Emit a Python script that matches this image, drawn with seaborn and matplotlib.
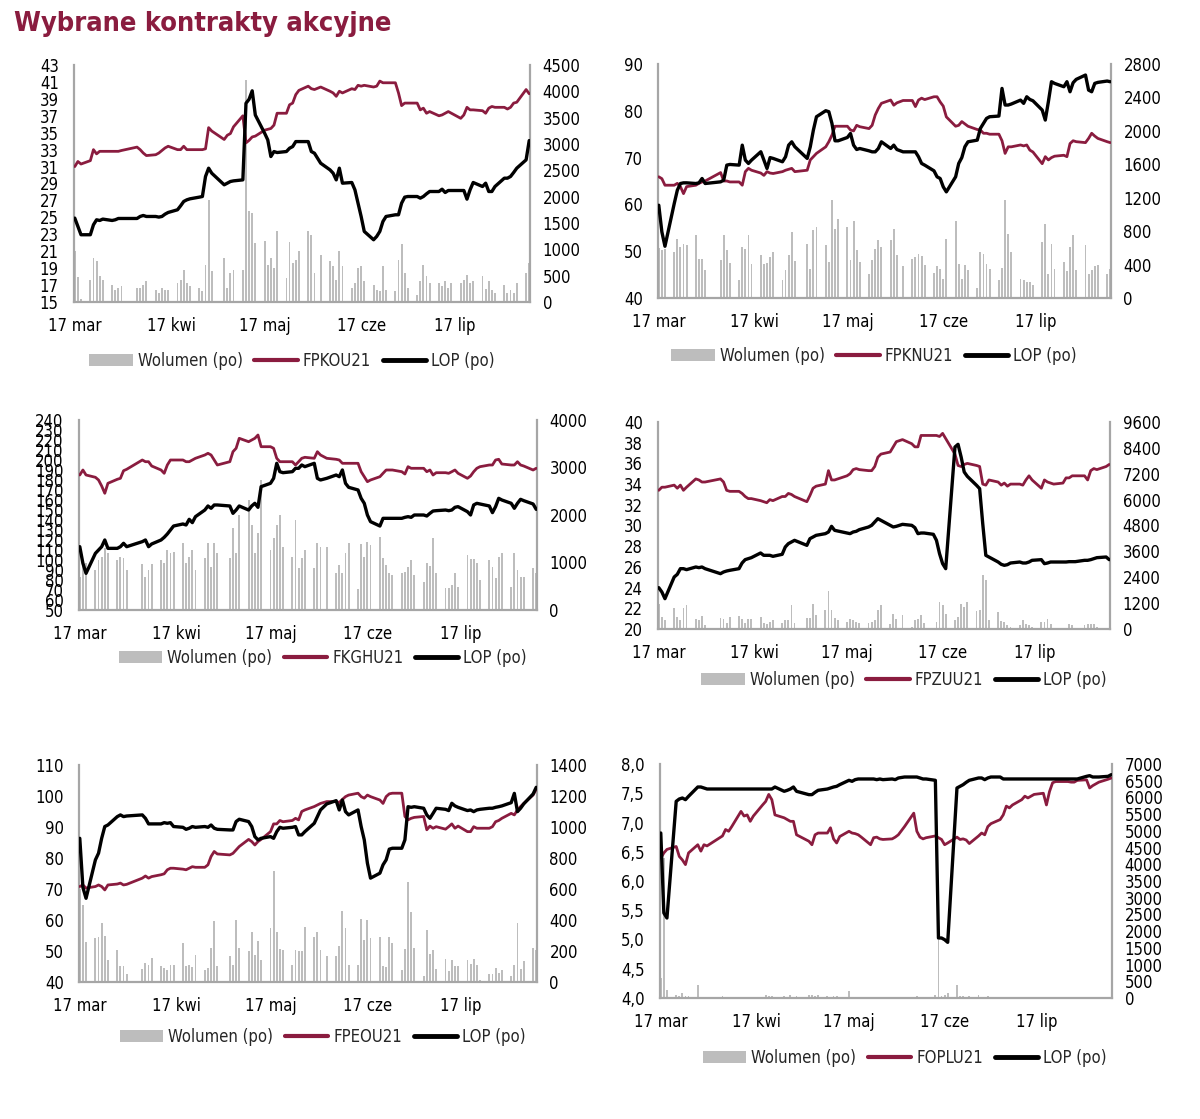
import pandas as pd
import matplotlib.pyplot as plt
import seaborn as sns
from matplotlib.patches import Patch
from matplotlib.lines import Line2D

# Theme and fonts
sns.set_theme(style="white")
plt.rcParams['font.family'] = ['DejaVu Sans']
plt.rcParams['font.stretch'] = 'condensed'

MAROON = '#8A1C3F'
GREY = '#BDBDBD'
SPINE = '#A6A6A6'

# Trading days (Polish holidays removed)
dates = pd.bdate_range('2021-03-17', '2021-08-10')
dates = dates.drop(pd.to_datetime(['2021-04-02', '2021-04-05', '2021-05-03', '2021-06-03']))

tick_dates = pd.to_datetime(['2021-03-17', '2021-04-17', '2021-05-17', '2021-06-17', '2021-07-17'])
tick_labels = ['17 mar', '17 kwi', '17 maj', '17 cze', '17 lip']

# ---- FPKOU21 ----
pko_fut = [31.0, 31.6, 31.3, 31.7, 33.0, 32.5, 32.8, 32.8, 32.8, 32.8, 32.8, 32.9,
           33.3, 33.0, 32.6, 32.3, 32.4, 32.6, 32.9, 33.2, 33.4, 33.0, 33.0, 33.4, 33.0, 33.0,
           33.0, 33.0, 33.1, 35.6, 35.2, 34.2, 34.7, 34.9, 35.7, 37.0, 33.8, 34.1, 34.5, 34.6,
           35.3, 35.4, 35.5, 35.9, 37.3, 37.3, 38.3, 38.5, 39.5, 40.0, 40.5, 40.2, 40.1, 40.4,
           39.9, 39.7, 39.3, 39.9, 39.7, 40.2, 40.1, 40.6, 40.5, 40.6, 40.4, 40.5, 41.1, 40.9, 40.9,
           40.9, 39.7, 38.2, 38.5, 38.5, 38.5, 37.7, 37.9, 37.3, 37.5, 37.0, 37.1, 37.3, 37.5, 37.3,
           36.7, 37.1, 38.0, 37.7, 37.7, 37.6, 37.3, 37.9, 38.1, 38.0, 38.0, 37.8, 38.0, 38.5, 38.6,
           40.1, 39.6]
pko_lop = [1593, 1435, 1277, 1277, 1466, 1561, 1548, 1574, 1548, 1561, 1586, 1586,
           1586, 1624, 1643, 1624, 1624, 1612, 1624, 1668, 1700, 1751, 1826, 1909, 1940, 1959,
           1991, 2003, 2383, 2541, 2446, 2225, 2256, 2288, 2300, 2319, 3773, 3850, 4010, 3550,
           3204, 3078, 2762, 2857, 2838, 2857, 2920, 2951, 3046, 3046, 3046, 2857, 2825, 2635,
           2509, 2446, 2319, 2541, 2256, 2269, 2130, 1877, 1624, 1340, 1182, 1245, 1340, 1529, 1624,
           1656, 1656, 1877, 1991, 2003, 2003, 1972, 2003, 2054, 2098, 2098, 2142, 2079, 2117, 2117,
           2117, 2117, 1953, 2130, 2269, 2193, 2256, 2098, 2098, 2193, 2351, 2351, 2383, 2459, 2541,
           2699, 3065]
pko_vol = [960, 480, 60, 420, 830, 770, 490, 420, 330, 230, 265, 300,
           265, 265, 330, 390, 230, 170, 265, 230, 230, 360, 420, 610, 360, 300,
           265, 200, 710, 1940, 580, 830, 265, 550, 610, 610, 4215, 1720, 1690, 1120,
           1150, 710, 830, 645, 1350, 455, 1130, 740, 800, 960, 1350, 1275, 550, 900,
           770, 675, 420, 960, 675, 265, 360, 645, 675, 390, 330, 230, 200, 675, 230,
           200, 800, 1100, 550, 265, 140, 390, 710, 490, 360, 360, 300, 390, 265, 370,
           360, 420, 520, 360, 390, 490, 250, 390, 230, 170, 330, 180, 230, 170, 360,
           560, 740]

# ---- FPKNU21 ----
pkn_fut = [65.9, 65.5, 64.1, 64.1, 64.5, 63.8, 62.3, 63.8, 64.1, 64.5, 64.8, 65.0,
           66.8, 65.0, 65.0, 64.8, 64.8, 64.1, 67.0, 67.7, 67.3, 66.7, 66.2, 67.0, 66.7, 66.6,
           67.0, 67.3, 67.5, 67.7, 67.0, 67.3, 69.5, 70.2, 70.9, 72.3, 73.4, 74.8, 76.7, 76.7,
           76.7, 75.9, 75.7, 76.9, 76.6, 76.2, 76.9, 79.1, 80.5, 81.6, 82.3, 81.2, 81.7, 82.2,
           82.2, 80.9, 82.3, 82.7, 82.4, 83.0, 83.0, 81.9, 81.0, 78.7, 76.7, 76.9, 77.7, 77.2, 76.7,
           76.0, 75.9, 75.2, 75.2, 75.0, 75.0, 73.6, 70.9, 72.3, 72.3, 72.7, 72.5, 72.7, 71.6, 71.2,
           68.7, 70.2, 69.5, 70.0, 70.3, 70.5, 70.2, 73.0, 73.6, 73.4, 73.2, 74.1, 75.2, 74.6, 74.1,
           73.4, 73.2]
pkn_lop = [1110, 791, 619, 1130, 1290, 1370, 1378, 1378, 1370, 1378, 1430, 1370,
           1390, 1410, 1590, 1598, 1590, 1829, 1650, 1610, 1650, 1750, 1650, 1550, 1680, 1670,
           1630, 1690, 1829, 1869, 1810, 1670, 1810, 2009, 2169, 2241, 2229, 2089, 1881, 1881,
           1921, 1969, 1829, 1777, 1789, 1761, 1749, 1749, 1789, 1869, 1789, 1829, 1777, 1749,
           1749, 1749, 1690, 1610, 1590, 1522, 1450, 1430, 1330, 1270, 1450, 1610, 1680, 1810, 1869,
           1889, 2029, 2089, 2149, 2169, 2177, 2508, 2309, 2309, 2321, 2368, 2329, 2408, 2376, 2360,
           2249, 2129, 2349, 2588, 2568, 2528, 2588, 2468, 2576, 2616, 2668, 2488, 2468, 2568, 2580,
           2596, 2588]
pkn_vol = [600, 570, 590, 551, 711, 611, 643, 631, 751, 471, 471, 340,
           459, 751, 571, 419, 220, 611, 591, 751, 403, 511, 403, 419, 491, 551,
           212, 340, 511, 791, 439, 651, 351, 811, 851, 631, 431, 1170, 831, 951,
           851, 459, 923, 579, 431, 284, 459, 591, 691, 611, 691, 831, 511, 379,
           471, 491, 523, 499, 391, 300, 379, 351, 232, 711, 923, 403, 232, 391, 340,
           124, 551, 523, 411, 351, 220, 363, 1170, 763, 551, 232, 220, 192, 192, 152,
           671, 883, 284, 643, 351, 431, 324, 611, 751, 340, 631, 284, 340, 379, 391,
           284, 351]

# ---- FKGHU21 ----
kgh_fut = [185.0, 190.0, 185.0, 182.7, 180.0, 174.0, 166.7, 176.7, 180.7, 181.7, 189.3, 190.7,
           200.0, 198.3, 198.3, 194.0, 190.0, 186.7, 195.0, 200.0, 200.0, 200.0, 198.3, 198.3, 200.0, 201.7,
           205.0, 206.7, 205.0, 200.0, 195.0, 198.3, 208.3, 211.7, 221.7, 218.3, 220.0, 221.7, 225.0, 213.3,
           213.3, 211.7, 201.7, 198.3, 198.3, 198.3, 195.0, 198.3, 201.7, 202.7, 201.7, 208.3, 205.0, 201.7,
           200.7, 200.0, 196.7, 196.7, 196.7, 196.7, 188.3, 183.3, 178.3, 180.0, 183.3, 186.7, 190.0, 190.0, 190.0,
           188.3, 186.0, 193.3, 191.7, 191.7, 191.7, 188.3, 190.0, 185.0, 187.3, 187.3, 186.7, 188.3, 190.0, 186.7,
           181.7, 184.0, 188.3, 191.7, 193.3, 195.0, 195.0, 200.0, 200.7, 196.0, 195.0, 195.0, 198.3, 195.0, 194.0,
           190.0, 191.7]
kgh_lop = [1333, 983, 772, 1193, 1263, 1333, 1474, 1298, 1298, 1333, 1404, 1333,
           1439, 1474, 1333, 1390, 1474, 1530, 1600, 1684, 1768, 1811, 1790, 1909, 1839, 1965,
           2105, 2190, 2141, 2211, 2211, 2190, 2035, 2105, 2190, 2105, 2190, 2246, 2162, 2597,
           2667, 2772, 3088, 2912, 2891, 2912, 2983, 2983, 3053, 3018, 3088, 2772, 2737, 2772,
           2842, 2807, 2948, 2667, 2583, 2527, 2351, 2246, 2000, 1860, 1768, 1930, 1930, 1930, 1930,
           1930, 1951, 1965, 1951, 2000, 2000, 1979, 2035, 2084, 2091, 2105, 2091, 2105, 2162, 2176,
           2070, 2000, 2211, 2246, 2232, 2190, 2049, 2176, 2351, 2316, 2246, 2141, 2246, 2330, 2302,
           2232, 2119]
kgh_vol = [700, 950, 980, 842, 1053, 1123, 1298, 1193, 1053, 1123, 1088, 842,
           968, 702, 842, 968, 1053, 983, 1263, 1193, 1228, 1404, 983, 1123, 1263, 842,
           1088, 1404, 912, 1404, 1193, 1088, 1719, 1193, 2000, 2316, 1790, 1193, 1614, 2737,
           1263, 1509, 1790, 2000, 1333, 1123, 1895, 877, 1088, 1263, 877, 1404, 1333, 1333,
           786, 947, 772, 1193, 1404, 435, 1390, 1123, 1439, 1369, 1544, 1088, 947, 772, 737,
           786, 807, 912, 1053, 737, 597, 983, 926, 1509, 772, 456, 456, 526, 772, 491,
           1158, 1067, 1067, 983, 632, 1053, 912, 667, 1123, 1193, 491, 1193, 842, 688, 702,
           877, 772]

# ---- FPZUU21 ----
pzu_fut = [33.4, 33.7, 33.7, 33.9, 33.6, 33.9, 33.4, 33.7, 34.5, 34.4, 34.2, 34.2,
           34.5, 34.2, 33.4, 33.3, 33.3, 33.1, 32.8, 32.6, 32.6, 32.4, 32.3, 32.2, 32.5, 32.4,
           32.8, 32.8, 33.1, 33.0, 32.8, 32.3, 32.9, 33.6, 33.8, 34.0, 35.3, 34.4, 34.4, 34.5,
           34.8, 35.0, 35.4, 35.5, 35.4, 35.3, 35.3, 35.7, 36.6, 36.9, 37.1, 37.6, 38.1, 38.3,
           37.9, 37.6, 37.6, 38.7, 38.7, 38.7, 38.7, 38.6, 38.9, 38.4, 36.9, 35.8, 35.7, 35.9, 36.0,
           35.8, 35.7, 34.0, 33.9, 34.4, 34.2, 33.9, 34.1, 33.8, 34.0, 34.0, 33.9, 34.4, 34.8, 34.4,
           33.6, 34.4, 34.2, 34.1, 34.0, 34.1, 34.6, 34.6, 34.8, 34.8, 34.8, 34.4, 35.3, 35.5, 35.4,
           35.7, 35.9]
pzu_lop = [1917, 1716, 1407, 2412, 2535, 2798, 2798, 2752, 2876, 2845, 2876, 2798,
           2566, 2644, 2690, 2721, 2798, 3061, 3216, 3262, 3308, 3525, 3417, 3417, 3417, 3370,
           3463, 3803, 3958, 4035, 4112, 3880, 4190, 4267, 4344, 4422, 4499, 4762, 4576, 4545,
           4452, 4422, 4499, 4530, 4607, 4731, 4808, 4963, 5117, 5040, 4808, 4731, 4762, 4854,
           4808, 4700, 4422, 4452, 4452, 4391, 4112, 3494, 3030, 2798, 8440, 8565, 7977, 7282, 7080,
           6663, 6509, 4885, 3417, 3339, 3107, 2999, 2953, 2984, 3061, 3107, 3061, 3061, 3107, 3185,
           3216, 3030, 3061, 3107, 3107, 3107, 3107, 3123, 3123, 3123, 3185, 3185, 3216, 3262, 3308,
           3339, 3216]
pzu_vol = [1175, 557, 402, 989, 557, 402, 989, 1098, 479, 433, 587, 170,
           526, 479, 278, 557, 587, 479, 278, 479, 479, 557, 278, 216, 325, 402,
           278, 402, 402, 1098, 278, 526, 526, 1175, 634, 866, 1762, 866, 526, 433,
           325, 479, 433, 325, 278, 278, 325, 402, 866, 1098, 216, 711, 479, 634,
           93, 433, 479, 634, 278, 50, 325, 1252, 1098, 711, 402, 557, 1175, 1020, 1252,
           835, 866, 2489, 2257, 402, 788, 371, 325, 170, 93, 170, 402, 247, 170, 93,
           325, 325, 464, 247, 62, 31, 31, 247, 170, 62, 186, 216, 247, 247, 93,
           31, 31]

# ---- FPEOU21 ----
peo_fut = [70.8, 71.3, 70.3, 70.8, 71.3, 70.8, 69.7, 71.3, 71.6, 71.9, 71.3, 71.5,
           73.5, 74.2, 73.5, 74.0, 74.6, 74.9, 76.2, 76.7, 76.7, 76.4, 76.2, 76.7, 77.2, 77.0,
           77.0, 77.8, 80.5, 82.1, 81.3, 81.0, 81.5, 82.6, 83.7, 86.0, 85.3, 84.2, 85.3, 86.0,
           88.5, 91.0, 91.0, 92.1, 91.7, 92.1, 92.8, 92.3, 95.0, 95.5, 96.6, 97.1, 97.6, 98.2,
           98.2, 97.9, 98.9, 99.8, 100.3, 100.9, 99.8, 99.3, 100.3, 99.8, 98.7, 97.6, 99.8, 100.7, 100.9,
           100.9, 93.4, 92.3, 92.8, 93.1, 93.4, 89.1, 90.3, 89.6, 90.1, 89.3, 90.1, 91.0, 89.6, 90.3,
           88.5, 88.5, 90.1, 89.6, 89.6, 89.6, 90.1, 91.7, 92.1, 92.8, 94.4, 93.9, 95.5, 96.6, 97.6,
           100.3, 102.2]
peo_lop = [927, 610, 540, 788, 831, 927, 1003, 1013, 1067, 1078, 1067, 1071,
           1078, 1056, 1020, 1020, 1020, 1028, 1024, 1028, 1003, 998, 985, 992, 1003, 998,
           1003, 998, 1013, 992, 985, 981, 981, 1035, 1050, 1035, 1003, 938, 917, 927,
           938, 927, 970, 998, 992, 998, 1003, 949, 949, 970, 1024, 1067, 1110, 1149,
           1170, 1110, 1174, 1099, 1078, 1110, 1003, 917, 767, 670, 702, 756, 788, 857, 863,
           863, 917, 1131, 1127, 1131, 1121, 1078, 1056, 1088, 1121, 1114, 1106, 1153, 1136, 1127,
           1106, 1110, 1099, 1110, 1114, 1121, 1121, 1127, 1131, 1136, 1157, 1217, 1099, 1121, 1149,
           1213, 1256]
peo_vol = [600, 500, 260, 283, 290, 380, 294, 140, 208, 105, 105, 54,
           86, 122, 112, 155, 101, 90, 75, 112, 112, 251, 101, 112, 97, 176,
           79, 90, 219, 391, 101, 165, 112, 401, 219, 198, 320, 176, 262, 144,
           348, 713, 320, 213, 204, 112, 204, 198, 198, 358, 290, 320, 204, 170,
           170, 234, 455, 348, 112, 112, 406, 273, 401, 283, 290, 101, 97, 290, 251,
           75, 213, 648, 449, 219, 41, 337, 182, 208, 84, 148, 69, 140, 101, 105,
           144, 118, 148, 112, 15, 54, 54, 90, 58, 79, 36, 112, 380, 84, 133,
           219, 208]

# ---- FOPLU21 ----
opl_fut = [6.39, 6.48, 6.54, 6.59, 6.42, 6.36, 6.28, 6.48, 6.62, 6.51, 6.62, 6.60,
           6.77, 6.88, 6.85, 6.93, 7.19, 7.11, 7.13, 7.02, 7.11, 7.30, 7.36, 7.48, 7.39, 7.13,
           7.08, 7.05, 7.02, 7.02, 6.79, 6.68, 6.62, 6.79, 6.82, 6.82, 6.91, 6.72, 6.65, 6.76,
           6.85, 6.82, 6.81, 6.79, 6.75, 6.62, 6.74, 6.75, 6.72, 6.71, 6.72, 6.75, 6.79, 6.93,
           7.16, 6.85, 6.75, 6.72, 6.74, 6.77, 6.74, 6.71, 6.62, 6.65, 6.75, 6.71, 6.72, 6.70, 6.64,
           6.77, 6.82, 6.79, 6.93, 6.98, 7.05, 7.13, 7.28, 7.25, 7.30, 7.39, 7.45, 7.42, 7.45, 7.48,
           7.50, 7.30, 7.53, 7.68, 7.70, 7.70, 7.70, 7.69, 7.69, 7.72, 7.73, 7.59, 7.63, 7.66, 7.69,
           7.74, 7.76]
opl_lop = [4936, 2543, 2393, 5883, 5953, 5983, 5933, 6033, 6312, 6312, 6282, 6252,
           6252, 6252, 6252, 6252, 6252, 6252, 6252, 6252, 6252, 6252, 6252, 6252, 6252, 6312,
           6183, 6213, 6252, 6312, 6183, 6083, 6083, 6153, 6213, 6252, 6282, 6312, 6332, 6382,
           6512, 6482, 6532, 6552, 6552, 6552, 6552, 6532, 6552, 6532, 6552, 6532, 6582, 6611,
           6611, 6611, 6582, 6552, 6552, 6512, 1795, 1795, 1745, 1665, 6282, 6332, 6382, 6452, 6512,
           6582, 6582, 6532, 6582, 6611, 6611, 6552, 6552, 6552, 6552, 6552, 6552, 6552, 6552, 6552,
           6552, 6552, 6552, 6552, 6552, 6552, 6552, 6552, 6552, 6552, 6631, 6651, 6611, 6611, 6611,
           6631, 6681]
opl_vol = [600, 4200, 250, 100, 70, 150, 50, 50, 400, 30, 20, 20,
           50, 20, 20, 20, 30, 20, 30, 20, 30, 40, 100, 70, 60, 40,
           50, 30, 80, 40, 60, 100, 100, 50, 80, 60, 40, 70, 50, 40,
           200, 40, 30, 40, 30, 30, 20, 40, 30, 20, 30, 20, 40, 30,
           40, 60, 30, 20, 40, 80, 1745, 60, 100, 150, 400, 50, 60, 40, 60,
           80, 40, 30, 50, 30, 30, 20, 30, 40, 20, 20, 30, 20, 40, 20,
           20, 30, 20, 20, 30, 20, 30, 40, 20, 20, 20, 30, 20, 30, 20,
           20, 30]

W, H = 1200, 1119
fig = plt.figure(figsize=(W / 100, H / 100), dpi=100)
fig.patch.set_facecolor('white')

fig.text(14 / W, 1 - 24 / H, 'Wybrane kontrakty akcyjne', color=MAROON,
         fontsize=19.5, fontweight='bold', ha='left', va='center')


def px_rect(x0, y0, x1, y1):
    return [x0 / W, 1 - y1 / H, (x1 - x0) / W, (y1 - y0) / H]


def draw_panel(rect, name, fut, lop, vol, lticks, rticks, leg_xy, comma=False):
    df = pd.DataFrame({'data': dates, 'fut': fut, 'lop': lop, 'vol': vol})

    ax_v = fig.add_axes(rect)
    ax_p = fig.add_axes(rect, sharex=ax_v)
    ax_l = fig.add_axes(rect, sharex=ax_v)

    # volume bars (right scale)
    ax_v.bar(df['data'], df['vol'], width=0.6, color=GREY, linewidth=0)
    ax_v.set_ylim(rticks[0], rticks[-1])
    ax_v.set_yticks([])
    for s in ['left', 'right', 'bottom']:
        ax_v.spines[s].set_color(SPINE)
        ax_v.spines[s].set_linewidth(1.6)
    ax_v.spines['top'].set_visible(False)
    ax_v.set_xticks(tick_dates)
    ax_v.set_xticklabels(tick_labels)
    ax_v.tick_params(axis='x', length=0, pad=11, labelsize=12, labelcolor='black')
    ax_v.set_xlim(dates[0] - pd.Timedelta(hours=6), dates[-1] + pd.Timedelta(hours=6))

    # futures price (left scale)
    sns.lineplot(data=df, x='data', y='fut', ax=ax_p, color=MAROON, linewidth=2.0)
    ax_p.set_ylim(lticks[0], lticks[-1])
    ax_p.set_yticks(lticks)
    if comma:
        ax_p.set_yticklabels([f'{t:.1f}'.replace('.', ',') for t in lticks])
    else:
        ax_p.set_yticklabels([str(t) for t in lticks])
    ax_p.tick_params(axis='y', length=0, pad=11, labelsize=12, labelcolor='black')
    ax_p.tick_params(axis='x', labelbottom=False, length=0)

    # LOP (right scale)
    sns.lineplot(data=df, x='data', y='lop', ax=ax_l, color='black', linewidth=2.4)
    ax_l.set_ylim(rticks[0], rticks[-1])
    ax_l.yaxis.tick_right()
    ax_l.set_yticks(rticks)
    ax_l.set_yticklabels([str(t) for t in rticks])
    ax_l.tick_params(axis='y', length=0, pad=9, labelsize=12, labelcolor='black')
    ax_l.tick_params(axis='x', labelbottom=False, length=0)

    for a in (ax_p, ax_l):
        a.patch.set_visible(False)
        for s in a.spines.values():
            s.set_visible(False)
        a.set_xlabel('')
        a.set_ylabel('')

    handles = [Patch(facecolor=GREY, edgecolor='none'),
               Line2D([], [], color=MAROON, linewidth=3),
               Line2D([], [], color='black', linewidth=3.5)]
    fig.legend(handles, ['Wolumen (po)', name, 'LOP (po)'], loc='center',
               bbox_to_anchor=(leg_xy[0] / W, 1 - leg_xy[1] / H), ncol=3,
               frameon=False, fontsize=12, handlelength=2.6, handletextpad=0.3,
               columnspacing=0.7)


draw_panel(px_rect(74, 65, 530, 302), 'FPKOU21', pko_fut, pko_lop, pko_vol,
           list(range(15, 44, 2)), list(range(0, 4501, 500)), (292, 361))
draw_panel(px_rect(658, 64, 1111, 298), 'FPKNU21', pkn_fut, pkn_lop, pkn_vol,
           list(range(40, 91, 10)), list(range(0, 2801, 400)), (874, 356))
draw_panel(px_rect(79, 420, 537, 610), 'FKGHU21', kgh_fut, kgh_lop, kgh_vol,
           list(range(50, 241, 10)), list(range(0, 4001, 1000)), (323, 658))
draw_panel(px_rect(658, 422, 1110, 629), 'FPZUU21', pzu_fut, pzu_lop, pzu_vol,
           list(range(20, 41, 2)), list(range(0, 9601, 1200)), (904, 680))
draw_panel(px_rect(79, 765, 537, 982), 'FPEOU21', peo_fut, peo_lop, peo_vol,
           list(range(40, 111, 10)), list(range(0, 1401, 200)), (323, 1037))
draw_panel(px_rect(660, 764, 1112, 998), 'FOPLU21', opl_fut, opl_lop, opl_vol,
           [4.0, 4.5, 5.0, 5.5, 6.0, 6.5, 7.0, 7.5, 8.0], list(range(0, 7001, 500)), (905, 1058),
           comma=True)

fig.savefig('out.png', dpi=100)
